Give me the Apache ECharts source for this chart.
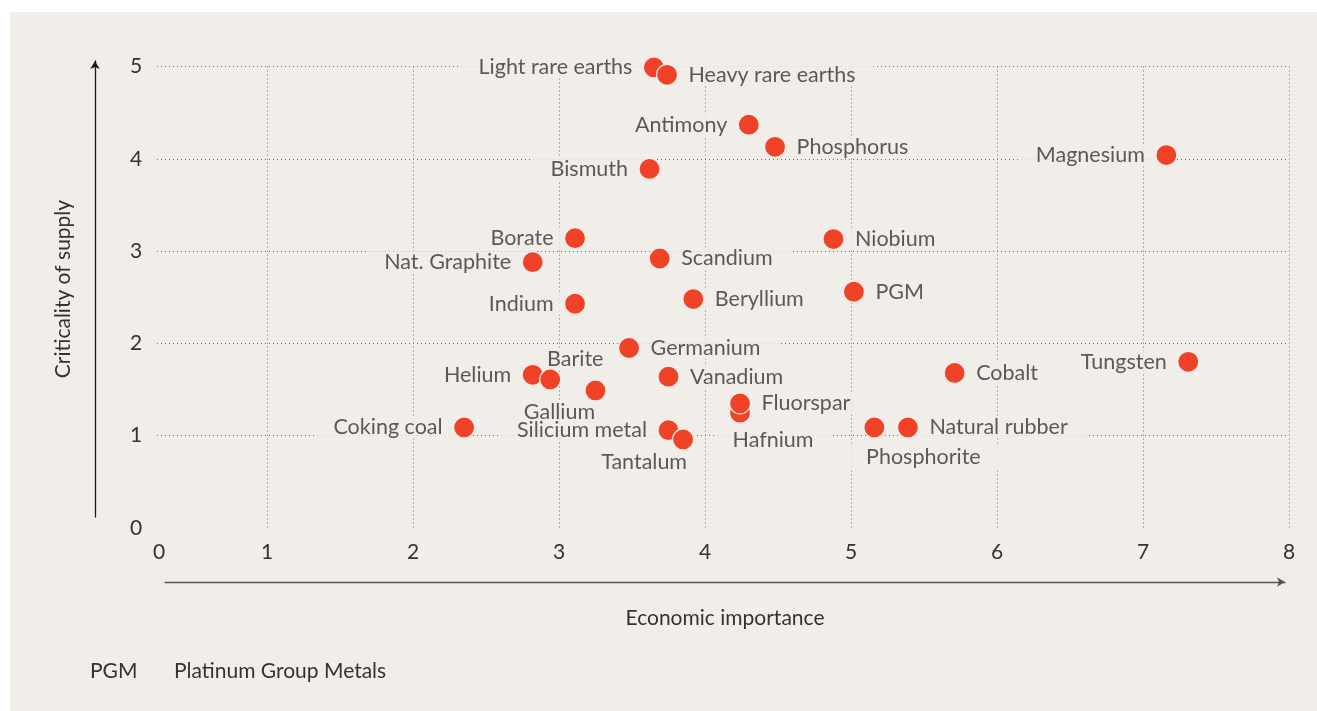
<!DOCTYPE html>
<html>
<head>
<meta charset="utf-8">
<script src="https://cdn.jsdelivr.net/npm/echarts@6/dist/echarts.min.js"></script>
<style>
  html, body { margin: 0; padding: 0; background: #ffffff; }
  #chart { width: 1317px; height: 711px; }
</style>
</head>
<body>
<div id="chart"></div>
<script>
// Raw materials: economic importance (x) against criticality of supply (y)
const materials = [
  'Light rare earths', 'Heavy rare earths', 'Antimony', 'Phosphorus', 'Magnesium',
  'Bismuth', 'Borate', 'Nat. Graphite', 'Scandium', 'Niobium', 'PGM', 'Indium',
  'Beryllium', 'Germanium', 'Tungsten', 'Helium', 'Barite', 'Gallium', 'Vanadium',
  'Cobalt', 'Hafnium', 'Fluorspar', 'Coking coal', 'Silicium metal', 'Tantalum',
  'Phosphorite', 'Natural rubber'
];
const economicImportance = [
  3.65, 3.74, 4.30, 4.48, 7.16,
  3.62, 3.11, 2.82, 3.69, 4.88, 5.02, 3.11,
  3.92, 3.48, 7.31, 2.82, 2.94, 3.25, 3.75,
  5.71, 4.24, 4.24, 2.35, 3.75, 3.85,
  5.16, 5.39
];
const supplyRisk = [
  4.99, 4.91, 4.37, 4.13, 4.04,
  3.89, 3.14, 2.88, 2.92, 3.13, 2.56, 2.43,
  2.48, 1.95, 1.80, 1.66, 1.61, 1.49, 1.64,
  1.68, 1.25, 1.35, 1.09, 1.06, 0.96,
  1.09, 1.09
];
const xTicks = [0, 1, 2, 3, 4, 5, 6, 7, 8];
const yTicks = [0, 1, 2, 3, 4, 5];

const footnoteAbbr = 'PGM';
const footnoteText = 'Platinum Group Metals';

// Styling
const BG = '#f1eeea';
const INK = '#333333';
const DOT = '#ef4227';
const GRIDLINE = '#707070';
const FONT = 'Lato, "Noto Sans", sans-serif';
const FS = 21.5;
const FS_AXIS = 21;

// Label placement around each dot (default: left of the dot)
const rightSide = new Set([
  'Heavy rare earths', 'Phosphorus', 'Scandium', 'Niobium', 'PGM', 'Beryllium',
  'Germanium', 'Vanadium', 'Cobalt', 'Fluorspar', 'Natural rubber'
]);
const specialPosition = {
  'Barite': 'top', 'Gallium': 'bottom', 'Tantalum': 'bottom',
  'Hafnium': 'bottom', 'Phosphorite': 'bottom'
};
// extra shift (px) for labels placed above/below their dot
const labelNudge = {
  'Barite': [25, 1.5], 'Gallium': [-36, 0], 'Tantalum': [-39, 1],
  'Hafnium': [33, 6], 'Phosphorite': [49, 8]
};

const points = materials.map((name, i) => ({
  name,
  value: [economicImportance[i], supplyRisk[i]]
}));

const labelledPoints = points.map(p => {
  const pos = specialPosition[p.name] || (rightSide.has(p.name) ? 'right' : 'left');
  return {
    name: p.name,
    value: p.value,
    // side labels sit 11px from the dot; their wide padding tucks under the dot
    label: { position: pos, distance: specialPosition[p.name] ? 0 : -7 }
  };
});

const chart = echarts.init(document.getElementById('chart'), null, { renderer: 'canvas' });

const dotted = { color: GRIDLINE, width: 1, type: [1, 3] };

chart.setOption({
  animation: false,
  backgroundColor: BG,
  textStyle: { fontFamily: FONT },
  graphic: [
    // white page margin around the panel
    { type: 'rect', left: 0, top: 0, shape: { width: 1317, height: 12 }, style: { fill: '#ffffff' }, silent: true },
    { type: 'rect', left: 0, top: 0, shape: { width: 10, height: 711 }, style: { fill: '#ffffff' }, silent: true },
    { type: 'text', left: 90, top: 661, style: { text: footnoteAbbr, fill: INK, font: `${FS_AXIS}px ${FONT}` } },
    { type: 'text', left: 174, top: 661, style: { text: footnoteText, fill: INK, font: `${FS_AXIS}px ${FONT}` } }
  ],
  grid: [
    // plotting area
    { left: 121, right: 28, top: 66.5, height: 461.5 },
    // vertical arrow (criticality of supply)
    { left: 95, width: 10, top: 61, bottom: 194 },
    // horizontal arrow (economic importance)
    { left: 165, right: 32, top: 581, height: 1 }
  ],
  xAxis: [
    {
      gridIndex: 0, type: 'value', min: 0, max: 8, interval: 1,
      axisLine: { show: false }, axisTick: { show: false },
      splitLine: { show: true, showMinLine: false, lineStyle: dotted },
      axisLabel: {
        color: INK, fontSize: FS_AXIS, fontFamily: FONT, margin: 14,
        formatter: v => (v === xTicks[0] ? '{z|' + v + '}' : String(v)),
        rich: { z: { padding: [0, 0, 0, 76], fontSize: FS_AXIS, fontFamily: FONT, color: INK } }
      }
    },
    { gridIndex: 1, type: 'value', show: false },
    {
      gridIndex: 2, type: 'value', min: 0, max: 1, position: 'bottom',
      axisLine: { show: true, symbol: ['none', 'arrow'], symbolSize: [7, 8], lineStyle: { color: '#555555', width: 1.3 } },
      axisTick: { show: false }, axisLabel: { show: false }, splitLine: { show: false },
      name: 'Economic importance', nameLocation: 'middle', nameGap: 26,
      nameTextStyle: { color: INK, fontSize: FS_AXIS, fontFamily: FONT }
    }
  ],
  yAxis: [
    {
      gridIndex: 0, type: 'value', min: 0, max: 5, interval: 1,
      axisLine: { show: false }, axisTick: { show: false }, axisLabel: { show: false },
      splitLine: { show: true, showMinLine: false, lineStyle: dotted }
    },
    {
      // tick labels, sitting between the arrow and the plotting area
      gridIndex: 0, type: 'value', min: 0, max: 5, interval: 1, position: 'left', offset: 26, z: 5,
      axisLine: { show: false }, axisTick: { show: false }, splitLine: { show: false },
      axisLabel: {
        inside: true, margin: 23, color: INK, fontSize: FS_AXIS, fontFamily: FONT,
        backgroundColor: BG, padding: [2, 12, 2, 12],
        customValues: yTicks
      }
    },
    {
      gridIndex: 1, type: 'value', min: 0, max: 1,
      axisLine: { show: true, symbol: ['none', 'arrow'], symbolSize: [7, 8], lineStyle: { color: '#1a1a1a', width: 1.3 } },
      axisTick: { show: false }, axisLabel: { show: false }, splitLine: { show: false },
      name: 'Criticality of supply', nameLocation: 'middle', nameGap: 21,
      nameTextStyle: { color: INK, fontSize: FS_AXIS, fontFamily: FONT }
    },
    { gridIndex: 2, type: 'value', show: false }
  ],
  series: [
    {
      // name labels (drawn beneath the dots; their background breaks the grid lines)
      type: 'scatter', xAxisIndex: 0, yAxisIndex: 0, z: 2, silent: true,
      symbolSize: 21,
      itemStyle: { color: 'rgba(0,0,0,0)' },
      label: {
        show: true, formatter: '{b}', color: INK, fontFamily: FONT, fontSize: FS,
        lineHeight: 20, backgroundColor: BG, padding: [1, 18]
      },
      labelLayout: params => {
        const n = labelNudge[materials[params.dataIndex]];
        return n ? { dx: n[0], dy: n[1], hideOverlap: false } : { hideOverlap: false };
      },
      data: labelledPoints
    },
    {
      type: 'scatter', xAxisIndex: 0, yAxisIndex: 0, z: 3, silent: true,
      symbolSize: 21,
      itemStyle: { color: DOT, borderColor: BG, borderWidth: 1.2, opacity: 1 },
      data: points
    }
  ]
});
</script>
</body>
</html>
